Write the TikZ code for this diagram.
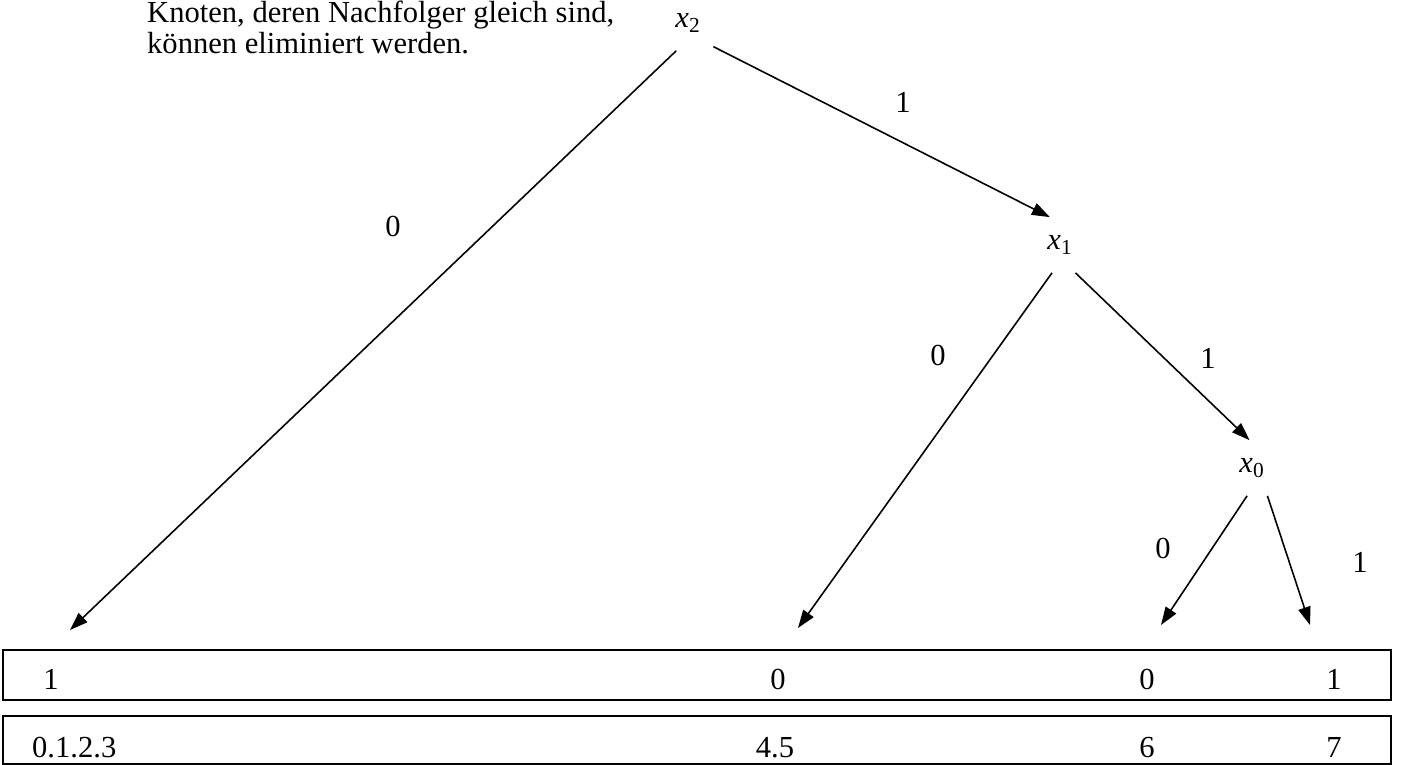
\documentclass[tikz,border=0pt]{standalone}
\usepackage{fontspec}
\setmainfont{Liberation Serif}
\usetikzlibrary{arrows.meta}

\begin{document}
\begin{tikzpicture}[>={Triangle[length=0.36cm,width=0.25cm]},
        every node/.style={font=\fontsize{17.4}{18.2}\selectfont},
        var/.style={minimum width=1cm, minimum height=1.1cm, inner sep=0pt},
        edge/.style={->, line width=0.9pt}]
        \useasboundingbox (0,0) rectangle (28.02,-15.3);

        % Hinweis
        \node[anchor=base west] (note1) at (2.82,-0.46) {Knoten, deren Nachfolger gleich sind,};
        \node[anchor=base west] (note2) at (2.82,-1.07) {können eliminiert werden.};

        % Knoten
        \node[var] (x2) at (13.76,-0.46) {\textit{x}\textsubscript{2}};
        \node[var] (x1) at (21.2,-4.9)  {\textit{x}\textsubscript{1}};
        \node[var] (x0) at (25.04,-9.36) {\textit{x}\textsubscript{0}};
        \coordinate (t0) at (1.4,-12.6);
        \coordinate (t1) at (15.96,-12.56);
        \coordinate (t2) at (23.22,-12.5);
        \coordinate (t3) at (26.2,-12.5);

        % Kanten
        \draw[edge] (x2.-113) -- (t0);
        \draw[edge] (x2.-43) -- (x1.110);
        \draw[edge] (x1.-106) -- (t1);
        \draw[edge] (x1.-61) -- (x0.95);
        \draw[edge] (x0.-100) -- (t2);
        \draw[edge] (x0.-61) -- (t3);

        % Beschriftung
        \node (e21) at (18.06,-2.04) {1};
        \node (e20) at (7.86,-4.52)  {0};
        \node (e10) at (18.76,-7.1)  {0};
        \node (e11) at (24.16,-7.16) {1};
        \node (e00) at (23.26,-10.96) {0};
        \node (e01) at (27.2,-11.24) {1};

        % Tabelle
        \draw[line width=0.9pt] (0.06,-13.0) rectangle (27.82,-14.0);
        \draw[line width=0.9pt] (0.06,-14.32) rectangle (27.82,-15.28);
        \node[anchor=base] (w0) at (1.02,-13.78)  {1};
        \node[anchor=base] (w1) at (15.56,-13.78) {0};
        \node[anchor=base] (w2) at (22.94,-13.78) {0};
        \node[anchor=base] (w3) at (26.68,-13.78) {1};
        \node[anchor=base west] (i0) at (0.52,-15.14) {0.1.2.3};
        \node[anchor=base] (i1) at (15.5,-15.14)  {4.5};
        \node[anchor=base] (i2) at (22.94,-15.14) {6};
        \node[anchor=base] (i3) at (26.68,-15.14) {7};
    \end{tikzpicture}
\end{document}
